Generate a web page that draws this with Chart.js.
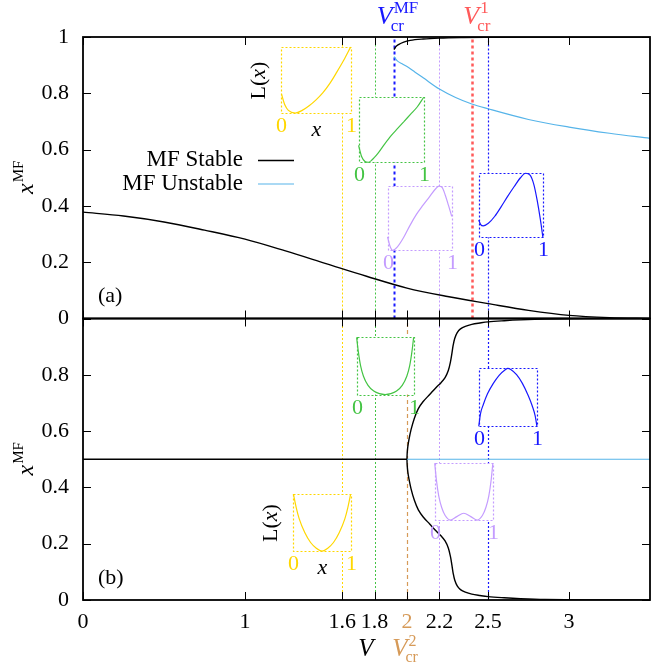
<!DOCTYPE html>
<html>
<head>
<meta charset="utf-8">
<script src="https://cdn.jsdelivr.net/npm/chart.js@4.4.1/dist/chart.umd.min.js"></script>
<style>
  html, body { margin: 0; padding: 0; background: #fff; }
  #wrap { width: 657px; height: 666px; }
</style>
</head>
<body>
<div id="wrap"><canvas id="chart"></canvas></div>
<script>
const FONT = "'Liberation Serif', 'Times New Roman', serif";

// ticks
const xTicks = [0, 1, 1.6, 1.8, 2, 2.2, 2.5, 3];
const yTicks = [0, 0.2, 0.4, 0.6, 0.8, 1];

// critical voltages
const vcrMF = 1.92;
const vcr1 = 2.4;
const vcr2 = 2.0;

// panel (a): mean field solutions
const aLowV = [0, 0.25, 0.5, 0.75, 1, 1.25, 1.5, 1.75, 2, 2.25, 2.5, 2.75, 3, 3.25, 3.5];
const aLowX = [0.378, 0.364, 0.343, 0.314, 0.282, 0.24, 0.195, 0.15, 0.108, 0.078, 0.053, 0.029, 0.011, 0.003, 0];
const aUpV = [1.92, 1.93, 1.95, 1.98, 2.02, 2.1, 2.2, 2.35, 2.5, 2.75, 3, 3.5];
const aUpX = [0.955, 0.965, 0.974, 0.982, 0.988, 0.993, 0.996, 0.998, 0.999, 1, 1, 1];
const aUnV = [1.92, 1.94, 1.97, 2.0, 2.05, 2.1, 2.2, 2.3, 2.4, 2.5, 2.75, 3, 3.25, 3.5];
const aUnX = [0.93, 0.915, 0.905, 0.895, 0.875, 0.855, 0.815, 0.785, 0.762, 0.745, 0.707, 0.68, 0.658, 0.64];

// panel (b): mean field solutions
const bFlatV = [0, 2];
const bFlatX = [0.5, 0.5];
const bUnV = [2, 3.5];
const bUnX = [0.5, 0.5];
const bSV = [2.0, 2.001, 2.005, 2.012, 2.025, 2.045, 2.07, 2.1, 2.14, 2.18, 2.21, 2.235, 2.255, 2.268, 2.277, 2.285, 2.295, 2.31, 2.33, 2.36, 2.4, 2.45, 2.5, 2.6, 2.7, 2.85, 3.1, 3.5];
const bSUp = [0.5, 0.52, 0.545, 0.57, 0.605, 0.645, 0.68, 0.705, 0.73, 0.755, 0.772, 0.79, 0.815, 0.845, 0.875, 0.905, 0.93, 0.95, 0.963, 0.972, 0.979, 0.984, 0.988, 0.992, 0.995, 0.998, 1, 1];
const bSLow = [0.5, 0.48, 0.455, 0.43, 0.395, 0.355, 0.32, 0.295, 0.27, 0.245, 0.228, 0.21, 0.185, 0.155, 0.125, 0.095, 0.07, 0.05, 0.037, 0.028, 0.021, 0.016, 0.012, 0.008, 0.005, 0.002, 0, 0];

// inset landscapes L(x), x in [0,1], L normalised to [0,1]
const insAYs = [0, 0.05, 0.1, 0.2, 0.3, 0.4, 0.5, 0.6, 0.7, 0.8, 0.9, 1];
const insAYL = [0.29, 0.12, 0.04, 0, 0.04, 0.11, 0.2, 0.31, 0.45, 0.62, 0.8, 1];
const insAGs = [0, 0.05, 0.1, 0.15, 0.2, 0.3, 0.4, 0.5, 0.6, 0.7, 0.8, 0.9, 1];
const insAGL = [0.26, 0.08, 0.01, 0, 0.03, 0.14, 0.28, 0.41, 0.52, 0.63, 0.74, 0.85, 1];
const insAPs = [0, 0.04, 0.08, 0.15, 0.25, 0.35, 0.45, 0.55, 0.65, 0.75, 0.8, 0.85, 0.9, 0.95, 1];
const insAPL = [0.21, 0.06, 0, 0.05, 0.2, 0.39, 0.56, 0.7, 0.83, 0.96, 1, 0.98, 0.86, 0.7, 0.53];
const insABs = [0, 0.03, 0.07, 0.15, 0.25, 0.35, 0.45, 0.55, 0.65, 0.73, 0.8, 0.86, 0.91, 0.96, 1];
const insABL = [0.27, 0.2, 0.18, 0.22, 0.33, 0.48, 0.64, 0.79, 0.93, 1, 0.97, 0.82, 0.58, 0.28, 0];
const insBGs = [0, 0.03, 0.07, 0.12, 0.2, 0.3, 0.4, 0.5, 0.6, 0.7, 0.8, 0.88, 0.93, 0.97, 1];
const insBGL = [1, 0.75, 0.5, 0.32, 0.16, 0.06, 0.015, 0, 0.015, 0.06, 0.16, 0.32, 0.5, 0.75, 1];
const insBBs = [0, 0.03, 0.08, 0.15, 0.25, 0.35, 0.45, 0.5, 0.55, 0.65, 0.75, 0.85, 0.92, 0.97, 1];
const insBBL = [0, 0.22, 0.38, 0.56, 0.74, 0.88, 0.97, 1, 0.98, 0.89, 0.74, 0.53, 0.35, 0.18, 0];
const insBPs = [0, 0.03, 0.07, 0.12, 0.18, 0.27, 0.38, 0.5, 0.62, 0.73, 0.82, 0.88, 0.93, 0.97, 1];
const insBPL = [1, 0.7, 0.42, 0.22, 0.08, 0, 0.06, 0.12, 0.06, 0, 0.08, 0.22, 0.42, 0.7, 1];
const insBYs = [0, 0.05, 0.1, 0.2, 0.3, 0.4, 0.5, 0.6, 0.7, 0.8, 0.9, 0.95, 1];
const insBYL = [1, 0.76, 0.57, 0.32, 0.15, 0.05, 0, 0.05, 0.15, 0.32, 0.57, 0.76, 1];

// colours
const cStable = '#000000';
const cUnstable = '#56b4e9';
const cYellow = '#ffd700';
const cGreen = '#44c444';
const cPurple = '#c49cff';
const cBlue = '#1818ff';
const cRed = '#ff5a5a';
const cOrange = '#d69a58';

// vertical marker lines
const markers = [
  { v: 1.6, color: cYellow, dash: [2, 2], width: 1, panels: ['yA', 'yB'] },
  { v: 1.8, color: cGreen, dash: [2, 2], width: 1, panels: ['yA', 'yB'] },
  { v: vcrMF, color: cBlue, dash: [3, 3], width: 2, panels: ['yA'] },
  { v: vcr2, color: cOrange, dash: [4, 3], width: 1.2, panels: ['yB'] },
  { v: 2.2, color: cPurple, dash: [2, 2], width: 1, panels: ['yA', 'yB'] },
  { v: vcr1, color: cRed, dash: [3, 3], width: 2.5, panels: ['yA'] },
  { v: 2.5, color: cBlue, dash: [2, 2], width: 1.2, panels: ['yA', 'yB'] }
];

// inset placement (data units of the panel)
const insets = [
  { axis: 'yA', v0: 1.225, v1: 1.652, y0: 0.730, y1: 0.964, color: cYellow, s: insAYs, L: insAYL, axisLabels: true },
  { axis: 'yA', v0: 1.701, v1: 2.103, y0: 0.555, y1: 0.786, color: cGreen, s: insAGs, L: insAGL },
  { axis: 'yA', v0: 1.880, v1: 2.276, y0: 0.242, y1: 0.470, color: cPurple, s: insAPs, L: insAPL },
  { axis: 'yA', v0: 2.443, v1: 2.839, y0: 0.288, y1: 0.516, color: cBlue, s: insABs, L: insABL },
  { axis: 'yB', v0: 1.689, v1: 2.041, y0: 0.730, y1: 0.933, color: cGreen, s: insBGs, L: insBGL },
  { axis: 'yB', v0: 2.443, v1: 2.802, y0: 0.617, y1: 0.823, color: cBlue, s: insBBs, L: insBBL },
  { axis: 'yB', v0: 2.171, v1: 2.530, y0: 0.284, y1: 0.486, color: cPurple, s: insBPs, L: insBPL },
  { axis: 'yB', v0: 1.299, v1: 1.652, y0: 0.174, y1: 0.376, color: cYellow, s: insBYs, L: insBYL, axisLabels: true }
];

const pts = (xs, ys) => xs.map((x, i) => ({ x: x, y: ys[i] }));

const line = (label, data, color, axis, width, smooth) => ({
  label: label, data: data, yAxisID: axis, borderColor: color, backgroundColor: color,
  borderWidth: width, showLine: true, pointRadius: 0, fill: false,
  cubicInterpolationMode: smooth ? 'default' : 'monotone', tension: smooth ? 0.35 : 0.4
});

const datasets = [
  line('MF Stable', pts(aLowV, aLowX), cStable, 'yA', 1.4),
  line('MF Unstable', pts(aUnV, aUnX), cUnstable, 'yA', 1.2),
  line('', pts(aUpV, aUpX), cStable, 'yA', 1.4),
  line('', pts(bFlatV, bFlatX), cStable, 'yB', 1.4),
  line('', pts(bUnV, bUnX), cUnstable, 'yB', 1.2),
  line('', pts(bSV.slice().reverse(), bSLow.slice().reverse()).concat(pts(bSV.slice(1), bSUp.slice(1))), cStable, 'yB', 1.4, true)
];
insets.forEach(ins => {
  const d = ins.s.map((s, i) => ({
    x: ins.v0 + s * (ins.v1 - ins.v0),
    y: ins.y0 + ins.L[i] * (ins.y1 - ins.y0)
  }));
  datasets.push(line('', d, ins.color, ins.axis, 1.2));
});

// text with italic main symbol plus super/subscripts
function drawSym(ctx, cx, baseY, main, sup, sub, color, size) {
  ctx.save();
  ctx.fillStyle = color;
  ctx.textBaseline = 'alphabetic';
  ctx.textAlign = 'left';
  ctx.font = 'italic ' + size + 'px ' + FONT;
  const wMain = ctx.measureText(main).width;
  const small = Math.round(size * 0.64);
  ctx.font = small + 'px ' + FONT;
  const wSup = sup ? ctx.measureText(sup).width : 0;
  const wSub = sub ? ctx.measureText(sub).width : 0;
  const total = wMain + Math.max(wSup, wSub);
  const x0 = cx - total / 2;
  ctx.font = 'italic ' + size + 'px ' + FONT;
  ctx.fillText(main, x0, baseY);
  ctx.font = small + 'px ' + FONT;
  if (sup) ctx.fillText(sup, x0 + wMain + 1, baseY - size * 0.42);
  if (sub) ctx.fillText(sub, x0 + wMain - 2, baseY + size * 0.25);
  ctx.restore();
}

const decor = {
  id: 'decor',
  beforeDatasetsDraw(chart) {
    const ctx = chart.ctx;
    const xs = chart.scales.x;
    ctx.save();
    markers.forEach(m => {
      const px = Math.round(xs.getPixelForValue(m.v)) + 0.5;
      m.panels.forEach(id => {
        const ys = chart.scales[id];
        ctx.strokeStyle = m.color;
        ctx.lineWidth = m.width;
        ctx.setLineDash(m.dash);
        ctx.beginPath();
        ctx.moveTo(px, ys.bottom);
        ctx.lineTo(px, ys.top);
        ctx.stroke();
      });
    });
    ctx.setLineDash([]);
    ctx.fillStyle = '#fff';
    insets.forEach(ins => {
      const ys = chart.scales[ins.axis];
      const l = xs.getPixelForValue(ins.v0), r = xs.getPixelForValue(ins.v1);
      const t = ys.getPixelForValue(ins.y1), b = ys.getPixelForValue(ins.y0);
      ctx.fillRect(l, t, r - l, b - t);
    });
    ctx.restore();
  },
  afterDatasetsDraw(chart) {
    const ctx = chart.ctx;
    const xs = chart.scales.x;
    ctx.save();
    // inset frames and labels
    insets.forEach(ins => {
      const ys = chart.scales[ins.axis];
      const l = Math.round(xs.getPixelForValue(ins.v0)) + 0.5, r = Math.round(xs.getPixelForValue(ins.v1)) + 0.5;
      const t = Math.round(ys.getPixelForValue(ins.y1)) + 0.5, b = Math.round(ys.getPixelForValue(ins.y0)) + 0.5;
      ctx.strokeStyle = ins.color;
      ctx.lineWidth = 1.2;
      ctx.setLineDash([2, 2]);
      ctx.strokeRect(l, t, r - l, b - t);
      ctx.setLineDash([]);
      ctx.fillStyle = ins.color;
      ctx.font = '22px ' + FONT;
      ctx.textAlign = 'center';
      ctx.textBaseline = 'top';
      ctx.fillText('0', l, b + 2);
      ctx.fillText('1', r, b + 2);
      if (ins.axisLabels) {
        ctx.fillStyle = '#000';
        ctx.font = 'italic 22px ' + FONT;
        ctx.fillText('x', (l + r) / 2, b + 6);
        // rotated L(x)
        ctx.save();
        ctx.translate(l - 22, (t + b) / 2);
        ctx.rotate(-Math.PI / 2);
        ctx.textBaseline = 'middle';
        ctx.textAlign = 'left';
        ctx.font = '22px ' + FONT;
        const w1 = ctx.measureText('L(').width;
        const w3 = ctx.measureText(')').width;
        ctx.font = 'italic 22px ' + FONT;
        const w2 = ctx.measureText('x').width;
        const x0 = -(w1 + w2 + w3) / 2;
        ctx.font = '22px ' + FONT;
        ctx.fillText('L(', x0, 0);
        ctx.font = 'italic 22px ' + FONT;
        ctx.fillText('x', x0 + w1, 0);
        ctx.font = '22px ' + FONT;
        ctx.fillText(')', x0 + w1 + w2, 0);
        ctx.restore();
      }
    });

    // panel frames and tick marks
    ['yA', 'yB'].forEach(id => {
      const ys = chart.scales[id];
      const L = xs.left, R = xs.right, T = ys.top, B = ys.bottom;
      ctx.strokeStyle = '#000';
      ctx.lineWidth = 1;
      yTicks.forEach(v => {
        const py = Math.round(ys.getPixelForValue(v)) + 0.5;
        ctx.beginPath();
        ctx.moveTo(L, py); ctx.lineTo(L + 8, py);
        ctx.moveTo(R, py); ctx.lineTo(R - 8, py);
        ctx.stroke();
      });
      xTicks.forEach(v => {
        const px = Math.round(xs.getPixelForValue(v)) + 0.5;
        ctx.beginPath();
        ctx.moveTo(px, B); ctx.lineTo(px, B - 8);
        ctx.moveTo(px, T); ctx.lineTo(px, T + 8);
        ctx.stroke();
      });
      ctx.lineWidth = 1.8;
      ctx.strokeRect(L, T, R - L, B - T);
      // panel tag
      ctx.fillStyle = '#000';
      ctx.font = '22px ' + FONT;
      ctx.textAlign = 'left';
      ctx.textBaseline = 'middle';
      ctx.fillText(id === 'yA' ? '(a)' : '(b)', L + 15, B - 22);
    });

    // legend
    const legendRows = [datasets[0], datasets[1]];
    legendRows.forEach((ds, i) => {
      const y = 160 + i * 23.5;
      ctx.fillStyle = '#000';
      ctx.font = '23px ' + FONT;
      ctx.textAlign = 'right';
      ctx.textBaseline = 'middle';
      ctx.fillText(ds.label, 243, y);
      ctx.strokeStyle = ds.borderColor;
      ctx.lineWidth = ds.borderWidth;
      ctx.beginPath();
      ctx.moveTo(258, y + 0.5); ctx.lineTo(294, y + 0.5);
      ctx.stroke();
    });
    ctx.restore();
  },
  afterDraw(chart) {
    const ctx = chart.ctx;
    const xs = chart.scales.x;
    const yA = chart.scales.yA, yB = chart.scales.yB;
    // top critical labels
    drawSym(ctx, xs.getPixelForValue(vcrMF) + 3, 24, 'V', 'MF', 'cr', cBlue, 26);
    drawSym(ctx, xs.getPixelForValue(vcr1) + 6, 24, 'V', '1', 'cr', cRed, 26);
    // x axis title
    drawSym(ctx, 366, 656, 'V', '', '', '#000', 25);
    drawSym(ctx, xs.getPixelForValue(vcr2) - 1, 656, 'V', '2', 'cr', cOrange, 25);
    // y titles
    [yA, yB].forEach(ys => {
      ctx.save();
      ctx.translate(33, (ys.top + ys.bottom) / 2);
      ctx.rotate(-Math.PI / 2);
      drawSym(ctx, 0, 0, 'x', 'MF', '', '#000', 24);
      ctx.restore();
    });
  }
};

const yAxis = (hideTop) => ({
  type: 'linear',
  position: 'left',
  stack: 'panels',
  stackWeight: 1,
  min: 0,
  max: 1,
  grid: { display: false },
  border: { display: false },
  afterBuildTicks: s => { s.ticks = yTicks.map(v => ({ value: v })); },
  afterFit: s => { s.width = 83; },
  ticks: {
    color: '#000',
    font: { family: FONT, size: 22 },
    padding: 6,
    callback: v => (hideTop && v > 0.99) ? '' : String(+v.toFixed(1))
  }
});

new Chart(document.getElementById('chart'), {
  type: 'scatter',
  data: { datasets: datasets },
  options: {
    responsive: true,
    maintainAspectRatio: false,
    animation: false,
    devicePixelRatio: 1,
    layout: { padding: { top: 37, right: 7, left: 0, bottom: 0 } },
    plugins: { legend: { display: false }, tooltip: { enabled: false } },
    scales: {
      x: {
        type: 'linear',
        position: 'bottom',
        min: 0,
        max: 3.5,
        grid: { display: false },
        border: { display: false },
        afterBuildTicks: s => { s.ticks = xTicks.map(v => ({ value: v })); },
        afterFit: s => { s.height = 66; },
        ticks: {
          autoSkip: false,
          maxRotation: 0,
          padding: 1,
          font: { family: FONT, size: 22 },
          color: c => (c.tick && c.tick.value === vcr2) ? cOrange : '#000',
          callback: v => String(v)
        }
      },
      yB: yAxis(true),
      yA: yAxis(false)
    }
  },
  plugins: [decor]
});
</script>
</body>
</html>
